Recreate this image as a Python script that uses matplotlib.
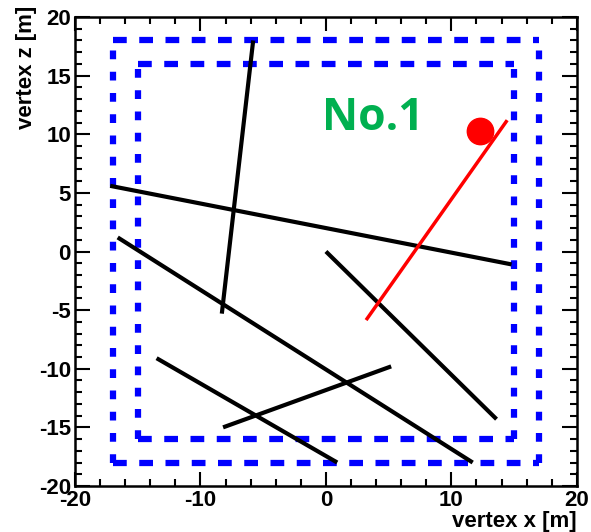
import matplotlib
matplotlib.use("Agg")
import matplotlib.pyplot as plt
from matplotlib.ticker import MultipleLocator

plt.rcParams["axes.unicode_minus"] = False

# detector boundaries [m]
outer_x = [-17, 17]
outer_z = [-18, 18]
inner_x = [-15, 15]
inner_z = [-16, 16]

# black tracks: (x start, z start, x end, z end)
track_x0 = [-5.8, -17.2, -16.6, 0.0, -13.5, -8.2]
track_z0 = [18.0, 5.6, 1.2, 0.0, -9.1, -15.0]
track_x1 = [-8.3, 14.8, 11.7, 13.6, 0.9, 5.2]
track_z1 = [-5.3, -1.1, -18.0, -14.3, -18.0, -9.8]

# red track and vertex
red_x = [3.2, 14.45]
red_z = [-5.85, 11.2]
vertex_x = [12.3]
vertex_z = [10.3]

label_text = "No.1"

fig = plt.figure(figsize=(5.91, 5.32), dpi=100)
ax = fig.add_axes([0.127, 0.0865, 0.849, 0.8815])

font = "Liberation Sans"

# boxes: horizontal and vertical sides drawn with their own dash pattern
for bx, bz in [(outer_x, outer_z), (inner_x, inner_z)]:
    for z in bz:
        ax.plot(bx, [z, z], color="#0000ff", lw=4.5, dashes=(2.2, 2.0))
    for x in bx:
        ax.plot([x, x], bz, color="#0000ff", lw=4.5, dashes=(1.4, 2.0))

for i in range(len(track_x0)):
    ax.plot([track_x0[i], track_x1[i]], [track_z0[i], track_z1[i]],
            color="black", lw=3, solid_capstyle="butt")

ax.plot(red_x, red_z, color="#ff0000", lw=2.5, solid_capstyle="butt")
ax.plot(vertex_x, vertex_z, "o", color="#ff0000", ms=19)

ax.text(-0.3, 10.4, label_text, color="#00b050", fontsize=32,
        fontweight="bold", family="Open Sans", ha="left", va="baseline")

ax.set_xlim(-20, 20)
ax.set_ylim(-20, 20)
ax.xaxis.set_major_locator(MultipleLocator(10))
ax.xaxis.set_minor_locator(MultipleLocator(2))
ax.yaxis.set_major_locator(MultipleLocator(5))
ax.yaxis.set_minor_locator(MultipleLocator(1))
ax.tick_params(which="both", direction="in", top=True, right=True, width=1.5)
ax.tick_params(which="major", length=10)
ax.tick_params(which="minor", length=5)
ax.tick_params(axis="y", which="major", length=11, pad=3)
ax.tick_params(axis="x", pad=3)
for lab in ax.get_xticklabels() + ax.get_yticklabels():
    lab.set_family(font)
    lab.set_fontweight("bold")
    lab.set_fontsize(16)
for s in ax.spines.values():
    s.set_linewidth(1.8)

# axis titles, ROOT style: aligned to the far end of each axis
fig.text(0.976, 0.019, "vertex x [m]", family=font, fontweight="bold",
         fontsize=16, ha="right", va="center")
fig.text(0.044, 0.99, "vertex z [m]", family=font, fontweight="bold",
         fontsize=16, rotation=90, ha="center", va="top")

fig.savefig("out.png", dpi=100)
